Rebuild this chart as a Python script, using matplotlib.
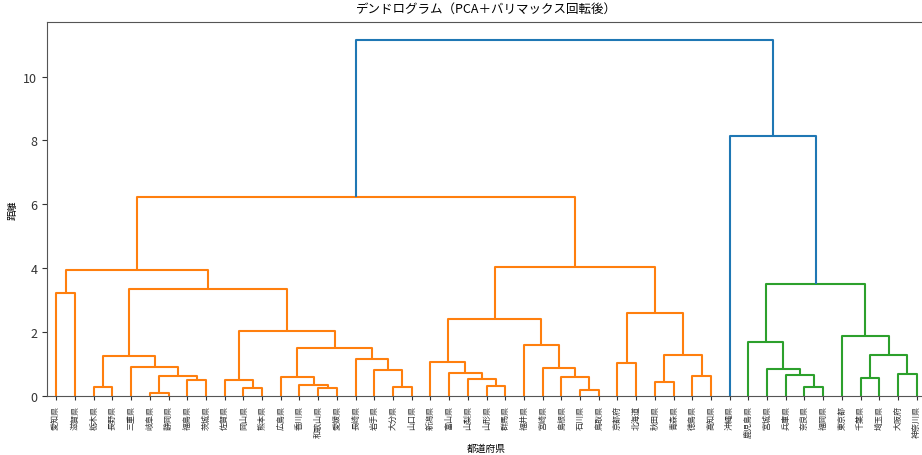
import matplotlib
matplotlib.use("Agg")
import matplotlib.pyplot as plt

plt.rcParams['font.family'] = ['Noto Sans CJK JP', 'DejaVu Sans']

# Leaf order (left to right)
leaf_labels = [
    "愛知県", "滋賀県", "栃木県", "長野県", "三重県", "岐阜県", "静岡県", "福島県", "茨城県",
    "佐賀県", "岡山県", "熊本県", "広島県", "香川県", "和歌山県", "愛媛県", "長崎県", "岩手県",
    "大分県", "山口県", "新潟県", "富山県", "山梨県", "山形県", "群馬県", "福井県", "宮崎県",
    "島根県", "石川県", "鳥取県", "京都府", "北海道", "秋田県", "青森県", "徳島県", "高知県",
    "沖縄県", "鹿児島県", "宮城県", "兵庫県", "奈良県", "福岡県", "東京都", "千葉県", "埼玉県",
    "大阪府", "神奈川県",
]
n = len(leaf_labels)

# Merges: node ids 0..46 are leaves, merge k creates node 47+k
merge_left = [5, 7, 47, 4, 2, 51, 10, 9, 14, 13, 12, 18, 17, 16, 57, 54, 52, 0, 64,
              23, 22, 21, 20, 28, 27, 26, 25, 69, 30, 32, 34, 76, 75, 74, 65,
              40, 39, 38, 37, 43, 45, 86, 42, 85, 36, 81]
merge_right = [6, 8, 48, 49, 3, 50, 11, 53, 15, 55, 56, 19, 58, 59, 60, 61, 62, 1, 63,
               24, 66, 67, 68, 29, 70, 71, 72, 73, 31, 33, 35, 77, 78, 79, 80,
               41, 82, 83, 84, 44, 46, 87, 88, 89, 90, 91]
merge_height = [0.09, 0.50, 0.62, 0.92, 0.29, 1.25, 0.25, 0.50, 0.25, 0.33, 0.60, 0.28,
                0.80, 1.15, 1.51, 2.02, 3.36, 3.23, 3.93,
                0.30, 0.53, 0.72, 1.06, 0.19, 0.61, 0.88, 1.60, 2.42, 1.04, 0.45, 0.64,
                1.27, 2.61, 4.03, 6.22,
                0.27, 0.66, 0.85, 1.69, 0.56, 0.68, 1.29, 1.87, 3.52, 8.13, 11.15]

palette = ['#ff7f0e', '#2ca02c']
above_color = '#1f77b4'
threshold = 0.7 * max(merge_height)

# positions / heights of nodes
xpos = {i: 5 + 10 * i for i in range(n)}
hgt = {i: 0.0 for i in range(n)}
for k, (a, b, h) in enumerate(zip(merge_left, merge_right, merge_height)):
    xpos[n + k] = (xpos[a] + xpos[b]) / 2
    hgt[n + k] = h

# colour assignment (scipy-like): clusters below threshold in left-to-right order
node_color = {}
def subtree_merges(node, out):
    if node >= n:
        k = node - n
        out.append(k)
        subtree_merges(merge_left[k], out)
        subtree_merges(merge_right[k], out)
    return out

cluster_roots = []
def find_roots(node):
    if node < n:
        return
    k = node - n
    if merge_height[k] < threshold:
        cluster_roots.append(node)
    else:
        find_roots(merge_left[k])
        find_roots(merge_right[k])
find_roots(n + len(merge_height) - 1)
cluster_roots.sort(key=lambda c: xpos[c])
for ci, root in enumerate(cluster_roots):
    for k in subtree_merges(root, []):
        node_color[k] = palette[ci % len(palette)]

fig = plt.figure(figsize=(9.22, 4.56), dpi=100)
ax = fig.add_axes([47 / 922, 59 / 456, 879 / 922, 374 / 456])

for k, (a, b, h) in enumerate(zip(merge_left, merge_right, merge_height)):
    xs = [xpos[a], xpos[a], xpos[b], xpos[b]]
    ys = [hgt[a], h, h, hgt[b]]
    ax.plot(xs, ys, color=node_color.get(k, above_color), lw=1.5, solid_capstyle='butt')

ax.set_xlim(0, 10 * n)
ax.set_ylim(0, max(merge_height) * 1.05)
ax.set_xticks([5 + 10 * i for i in range(n)])
ax.set_xticklabels(leaf_labels, rotation=90, fontsize=5.8)
ax.set_yticks([0, 2, 4, 6, 8, 10])
ax.tick_params(axis='y', labelsize=9, colors='#333333')
ax.tick_params(axis='x', length=3, colors='#333333')
for s in ax.spines.values():
    s.set_color('#555555')

ax.set_title("デンドログラム（PCA＋バリマックス回転後）", fontsize=9, pad=7)
ax.set_xlabel("都道府県", fontsize=7)
ax.set_ylabel("距離", fontsize=7)

fig.savefig("out.png", dpi=100)
